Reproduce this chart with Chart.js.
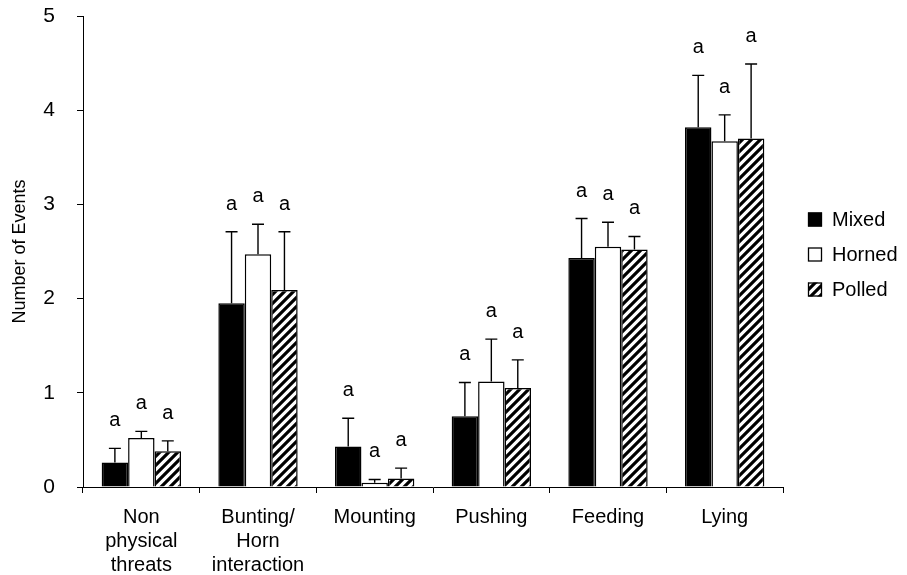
<!DOCTYPE html>
<html>
<head>
<meta charset="utf-8">
<script src="https://cdn.jsdelivr.net/npm/chart.js@4/dist/chart.umd.min.js"></script>
<style>
  html, body { margin: 0; padding: 0; background: #fff; }
  #wrap { width: 907px; height: 575px; position: relative; }
</style>
</head>
<body>
<div id="wrap"><canvas id="c" width="907" height="575"></canvas></div>
<script>
// ---- data ----
const categories = [["Non", "physical", "threats"], ["Bunting/", "Horn", "interaction"], "Mounting", "Pushing", "Feeding", "Lying"];
const seriesNames = ["Mixed", "Horned", "Polled"];
const mixed  = [0.26, 1.95, 0.43, 0.75, 2.43, 3.82];
const horned = [0.52, 2.47, 0.045, 1.12, 2.55, 3.67];
const polled = [0.38, 2.09, 0.09, 1.05, 2.52, 3.70];
const mixedErr  = [0.15, 0.76, 0.30, 0.36, 0.42, 0.55];
const hornedErr = [0.07, 0.32, 0.035, 0.45, 0.26, 0.28];
const polledErr = [0.11, 0.62, 0.11, 0.30, 0.14, 0.79];
const mixedSig  = ["a", "a", "a", "a", "a", "a"];
const hornedSig = ["a", "a", "a", "a", "a", "a"];
const polledSig = ["a", "a", "a", "a", "a", "a"];
const yTicks = [0, 1, 2, 3, 4, 5];
const yTitle = "Number of Events";

// ---- hatch pattern ----
function makeHatch() {
  const s = 9;
  const p = document.createElement('canvas');
  p.width = s; p.height = s;
  const c = p.getContext('2d');
  c.fillStyle = '#fff'; c.fillRect(0, 0, s, s);
  c.strokeStyle = '#000'; c.lineWidth = 3.2; c.lineCap = 'square';
  c.beginPath();
  c.moveTo(-2, s + 2); c.lineTo(s + 2, -2);
  c.moveTo(-2, 2); c.lineTo(2, -2);
  c.moveTo(s - 2, s + 2); c.lineTo(s + 2, s - 2);
  c.stroke();
  return document.getElementById('c').getContext('2d').createPattern(p, 'repeat');
}
const hatch = makeHatch();

const FONT = "'Liberation Sans', Arial, Helvetica, sans-serif";
const errs = [mixedErr, hornedErr, polledErr];
const sigs = [mixedSig, hornedSig, polledSig];

const errorBarPlugin = {
  id: 'errorBars',
  afterDatasetsDraw(chart) {
    const ctx = chart.ctx;
    const y = chart.scales.y;
    ctx.save();
    chart.data.datasets.forEach((ds, di) => {
      const meta = chart.getDatasetMeta(di);
      meta.data.forEach((bar, i) => {
        const v = ds.data[i];
        const top = v + errs[di][i];
        const x = bar.x;
        const y0 = y.getPixelForValue(v);
        const y1 = y.getPixelForValue(top);
        ctx.strokeStyle = '#000';
        ctx.lineWidth = 1.4;
        ctx.beginPath();
        ctx.moveTo(x, y0); ctx.lineTo(x, y1);
        ctx.moveTo(x - 6, y1); ctx.lineTo(x + 6, y1);
        ctx.stroke();
        ctx.fillStyle = '#000';
        ctx.font = '20px ' + FONT;
        ctx.textAlign = 'center';
        ctx.textBaseline = 'alphabetic';
        ctx.fillText(sigs[di][i], x, y1 - 22);
      });
    });
    ctx.restore();
  }
};

const legendPlugin = {
  id: 'customLegend',
  afterDraw(chart) {
    const ctx = chart.ctx;
    ctx.save();
    const x0 = 808, yc0 = 219.5, step = 35, box = 14;
    chart.data.datasets.forEach((ds, i) => {
      const yc = yc0 + i * step;
      ctx.fillStyle = ds.backgroundColor;
      ctx.fillRect(x0, yc - box / 2, box, box);
      ctx.strokeStyle = '#000';
      ctx.lineWidth = 1.3;
      ctx.strokeRect(x0 + 0.5, yc - box / 2 + 0.5, box - 1, box - 1);
      ctx.fillStyle = '#000';
      ctx.font = '20px ' + FONT;
      ctx.textAlign = 'left';
      ctx.textBaseline = 'middle';
      ctx.fillText(ds.label, x0 + 24, yc + 1);
    });
    ctx.restore();
  }
};

new Chart(document.getElementById('c'), {
  type: 'bar',
  data: {
    labels: categories,
    datasets: [
      { label: seriesNames[0], data: mixed, backgroundColor: '#000', borderColor: '#000', borderWidth: 1.5 },
      { label: seriesNames[1], data: horned, backgroundColor: '#fff', borderColor: '#000', borderWidth: 1.5 },
      { label: seriesNames[2], data: polled, backgroundColor: hatch, borderColor: '#000', borderWidth: 1.5 }
    ]
  },
  options: {
    responsive: false,
    animation: false,
    devicePixelRatio: 1,
    layout: { padding: { top: 16, right: 124, left: 0, bottom: 0 } },
    datasets: { bar: { categoryPercentage: 0.68, barPercentage: 1.0 } },
    plugins: {
      legend: { display: false },
      tooltip: { enabled: false }
    },
    scales: {
      x: {
        offset: true,
        grid: { display: true, drawOnChartArea: false, drawTicks: true, tickLength: 6, color: '#000', offset: true },
        border: { display: true, color: '#000', width: 1 },
        ticks: { color: '#000', font: { family: FONT, size: 20, lineHeight: 1.18 }, padding: 13, maxRotation: 0, autoSkip: false },
        afterFit(s) { s.height = 88; s.paddingLeft = 0; s.paddingRight = 0; }
      },
      y: {
        min: 0, max: 5,
        afterBuildTicks(s) { s.ticks = yTicks.map(v => ({ value: v })); },
        grid: { display: true, drawOnChartArea: false, drawTicks: true, tickLength: 6, color: '#000' },
        border: { display: true, color: '#000', width: 1 },
        ticks: { color: '#000', font: { family: FONT, size: 21 }, padding: 22 },
        title: { display: true, text: yTitle, color: '#000', font: { family: FONT, size: 18 }, padding: { top: 9, bottom: 0 } },
        afterFit(s) { s.width = 83; s.paddingTop = 0; s.paddingBottom = 0; }
      }
    }
  },
  plugins: [errorBarPlugin, legendPlugin]
});
</script>
</body>
</html>
